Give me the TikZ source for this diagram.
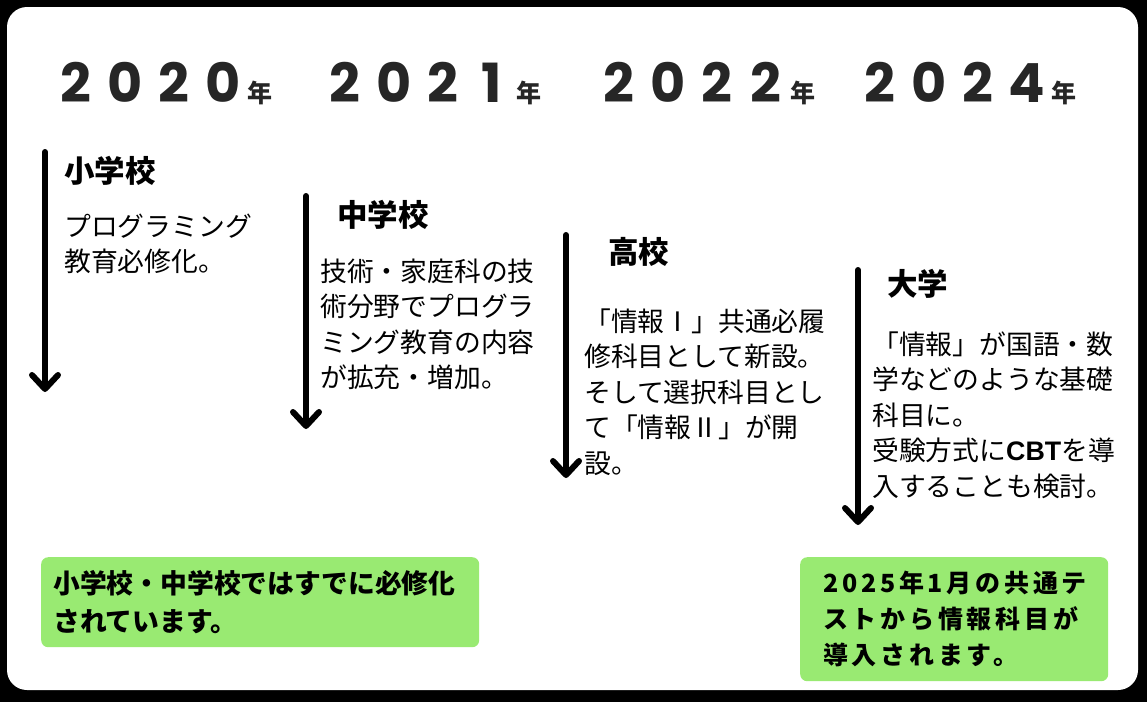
\documentclass[tikz,border=0pt]{standalone}
\usepackage{fontspec}
\setmainfont{Noto Sans CJK JP}
\newfontfamily\yearfont{Poppins}
\newfontfamily\latinfont{Liberation Sans}
\usepackage{xcolor}
\usetikzlibrary{arrows.meta}

\definecolor{notegreen}{RGB}{153,234,114}
\definecolor{yeargray}{RGB}{38,38,38}
\newcommand\yrdigit[1]{\makebox[49pt][c]{#1}}
\newcommand\yearlabel[4]{\yrdigit{#1}\yrdigit{#2}\yrdigit{#3}\yrdigit{#4}{\normalfont\bfseries\fontsize{25}{25}\selectfont 年}}

\begin{document}
\begin{tikzpicture}[x=1pt, y=-1pt,
    yearlbl/.style={anchor=base west, inner sep=0pt, text=yeargray, font=\yearfont\bfseries\fontsize{54}{54}\selectfont},
    stage/.style={anchor=base west, inner sep=0pt, font=\bfseries\fontsize{30.5}{36}\selectfont},
    bodytxt/.style={anchor=base west, inner sep=0pt, text width=300pt, align=left, font=\fontsize{26.8}{35.5}\selectfont},
    down/.style={line width=6pt, line cap=round, -{Straight Barb[round, length=14pt, width=26pt]}},
    note/.style={anchor=north west, fill=notegreen, rounded corners=7pt, inner ysep=0pt, align=left, font=\bfseries\fontsize{26.8}{38}\selectfont}]
    \useasboundingbox (0,0) rectangle (1147,702);
    % Frame
    \fill[black] (0,0) rectangle (1147,702);
    \fill[white, rounded corners=20pt] (7,7) rectangle (1138,690);

    % Years
    \node (y2020) [yearlbl] at (51,102) {\yearlabel{2}{0}{2}{0}};
    \node (y2021) [yearlbl] at (320,102) {\yearlabel{2}{0}{2}{1}};
    \node (y2022) [yearlbl] at (594,102) {\yearlabel{2}{0}{2}{2}};
    \node (y2024) [yearlbl] at (855,102) {\yearlabel{2}{0}{2}{4}};

    % Arrow ends
    \coordinate (elemtop) at (45,152);
    \coordinate (elemend) at (45,392);
    \coordinate (juniortop) at (306,196);
    \coordinate (juniorend) at (306,429);
    \coordinate (hightop) at (566,235);
    \coordinate (highend) at (566,478);
    \coordinate (univtop) at (858,270);
    \coordinate (univend) at (858,525);

    % Nodes
    \node (elem) [stage] at (64,182) {小学校};
    \node (junior) [stage] at (337,226) {中学校};
    \node (high) [stage] at (608,263) {高校};
    \node (univ) [stage] at (887,295) {大学};

    \node (elemtxt) [bodytxt] at (64,236) {プログラミング\\教育必修化。};
    \node (juniortxt) [bodytxt] at (320,281) {技術・家庭科の技\\術分野でプログラ\\ミング教育の内容\\が拡充・増加。};
    \node (hightxt) [bodytxt] at (584,331) {「情報Ⅰ」共通必履\\修科目として新設。\\そして選択科目とし\\て「情報Ⅱ」が開\\設。};
    \node (univtxt) [bodytxt] at (872,354) {「情報」が国語・数\\学などのような基礎\\科目に。\\受験方式に{\latinfont\bfseries CBT}を導\\入することも検討。};

    % Connections
    \draw [down] (elemtop) -- (elemend);
    \draw [down] (juniortop) -- (juniorend);
    \draw [down] (hightop) -- (highend);
    \draw [down] (univtop) -- (univend);

    % Notes
    \node (note1) [note, inner xsep=12pt, text width=414pt, minimum width=438pt, minimum height=90pt] at (41,557) {小学校・中学校ではすでに必修化\\されています。};
    \node (note2) [note, inner xsep=23pt, text width=262pt, minimum width=308pt, minimum height=124pt, font=\bfseries\fontsize{25}{36}\selectfont\addfontfeature{LetterSpace=15}] at (800,557) {2025年1月の共通テ\\ストから情報科目が\\導入されます。};
\end{tikzpicture}
\end{document}
